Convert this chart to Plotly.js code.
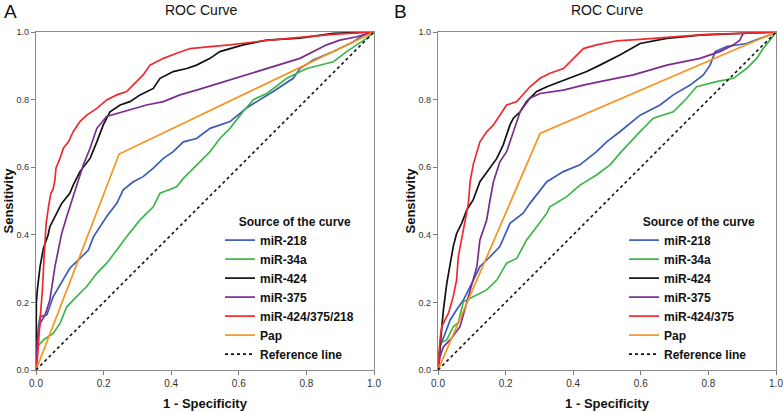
<!DOCTYPE html>
<html>
<head>
<meta charset="utf-8">
<script src="https://cdn.plot.ly/plotly-3.0.1.min.js"></script>
<style>html,body{margin:0;padding:0;background:#fff;overflow:hidden;}#chart{width:795px;height:413px;}</style>
</head>
<body>
<div id="chart"></div>
<script>
// ---------- Data ----------
const panelLabels = ["A", "B"];
const chartTitle = "ROC Curve";
const xTitle = "1 - Specificity";
const yTitle = "Sensitivity";
const legendTitle = "Source of the curve";
const tickValues = [0, 0.2, 0.4, 0.6, 0.8, 1.0];
const tickLabels = ["0.0", "0.2", "0.4", "0.6", "0.8", "1.0"];

const seriesNamesA = ["miR-218", "miR-34a", "miR-424", "miR-375", "miR-424/375/218", "Pap", "Reference line"];
const seriesNamesB = ["miR-218", "miR-34a", "miR-424", "miR-375", "miR-424/375", "Pap", "Reference line"];
const seriesColors = ["#3a5bb8", "#3db54a", "#111111", "#7a2d8c", "#ee2a30", "#f7941d", "#111111"];

// Panel A
const fprA_218 = [0, 0.003, 0.007, 0.012, 0.032, 0.051, 0.081, 0.1, 0.13, 0.155, 0.17, 0.189, 0.209, 0.239, 0.258, 0.288, 0.317, 0.347, 0.377, 0.406, 0.436, 0.475, 0.515, 0.574, 0.623, 0.653, 0.702, 0.761, 0.781, 0.82, 0.88, 0.939, 0.968, 1];
const tprA_218 = [0, 0.069, 0.128, 0.158, 0.163, 0.217, 0.266, 0.301, 0.33, 0.355, 0.394, 0.424, 0.454, 0.493, 0.533, 0.557, 0.572, 0.597, 0.626, 0.646, 0.675, 0.685, 0.715, 0.735, 0.775, 0.794, 0.824, 0.863, 0.892, 0.917, 0.942, 0.971, 0.991, 1];
const fprA_34a = [0, 0.004, 0.022, 0.051, 0.071, 0.091, 0.12, 0.15, 0.18, 0.209, 0.239, 0.268, 0.308, 0.347, 0.367, 0.416, 0.436, 0.475, 0.515, 0.544, 0.574, 0.613, 0.643, 0.683, 0.742, 0.801, 0.88, 0.919, 0.949, 0.978, 1];
const tprA_34a = [0, 0.069, 0.089, 0.108, 0.138, 0.187, 0.217, 0.247, 0.286, 0.316, 0.355, 0.394, 0.444, 0.483, 0.523, 0.542, 0.567, 0.607, 0.646, 0.685, 0.715, 0.765, 0.8, 0.818, 0.863, 0.892, 0.912, 0.942, 0.962, 0.981, 1];
const fprA_424 = [0, 0.001, 0.004, 0.012, 0.022, 0.036, 0.041, 0.061, 0.076, 0.1, 0.11, 0.13, 0.16, 0.18, 0.199, 0.219, 0.249, 0.278, 0.308, 0.347, 0.367, 0.406, 0.446, 0.475, 0.515, 0.544, 0.574, 0.613, 0.683, 0.781, 0.88, 1];
const tprA_424 = [0, 0.2, 0.237, 0.306, 0.36, 0.4, 0.424, 0.464, 0.493, 0.523, 0.547, 0.587, 0.626, 0.675, 0.725, 0.764, 0.784, 0.794, 0.814, 0.833, 0.863, 0.883, 0.892, 0.902, 0.922, 0.942, 0.951, 0.962, 0.976, 0.982, 0.996, 1];
const fprA_375 = [0, 0.004, 0.012, 0.027, 0.041, 0.056, 0.066, 0.076, 0.091, 0.106, 0.125, 0.14, 0.16, 0.18, 0.209, 0.239, 0.278, 0.327, 0.377, 0.426, 0.475, 0.525, 0.584, 0.683, 0.781, 0.86, 0.899, 0.949, 1];
const tprA_375 = [0, 0.089, 0.138, 0.163, 0.207, 0.306, 0.355, 0.404, 0.454, 0.503, 0.562, 0.607, 0.656, 0.715, 0.75, 0.759, 0.769, 0.784, 0.794, 0.814, 0.828, 0.843, 0.863, 0.892, 0.922, 0.962, 0.976, 0.986, 1];
const fprA_comb = [0, 0.004, 0.012, 0.019, 0.024, 0.03, 0.037, 0.044, 0.05, 0.056, 0.059, 0.071, 0.081, 0.096, 0.11, 0.13, 0.15, 0.18, 0.209, 0.239, 0.268, 0.298, 0.317, 0.337, 0.377, 0.416, 0.456, 0.515, 0.574, 0.683, 0.781, 0.879, 1];
const tprA_comb = [0, 0.03, 0.148, 0.237, 0.335, 0.434, 0.483, 0.523, 0.533, 0.562, 0.597, 0.626, 0.656, 0.675, 0.705, 0.735, 0.754, 0.774, 0.799, 0.814, 0.824, 0.853, 0.873, 0.902, 0.922, 0.937, 0.951, 0.957, 0.962, 0.975, 0.985, 0.993, 1];
const fprA_pap = [0, 0.246, 1];
const tprA_pap = [0, 0.639, 1];

// Panel B
const fprB_218 = [0, 0.006, 0.021, 0.036, 0.055, 0.075, 0.1, 0.124, 0.154, 0.183, 0.213, 0.252, 0.272, 0.302, 0.322, 0.371, 0.42, 0.469, 0.499, 0.538, 0.598, 0.657, 0.696, 0.746, 0.785, 0.805, 0.82, 0.854, 0.913, 0.953, 0.982, 1];
const tprB_218 = [0, 0.069, 0.108, 0.148, 0.178, 0.207, 0.256, 0.306, 0.335, 0.365, 0.434, 0.464, 0.493, 0.53, 0.557, 0.587, 0.607, 0.646, 0.675, 0.705, 0.754, 0.784, 0.814, 0.843, 0.873, 0.902, 0.942, 0.957, 0.966, 0.981, 0.991, 1];
const fprB_34a = [0, 0.006, 0.026, 0.045, 0.06, 0.075, 0.104, 0.144, 0.174, 0.203, 0.233, 0.262, 0.292, 0.322, 0.331, 0.381, 0.42, 0.469, 0.509, 0.538, 0.588, 0.637, 0.696, 0.736, 0.765, 0.824, 0.874, 0.913, 0.943, 0.962, 0.982, 1];
const tprB_34a = [0, 0.079, 0.089, 0.128, 0.14, 0.202, 0.217, 0.237, 0.266, 0.316, 0.33, 0.385, 0.424, 0.464, 0.483, 0.513, 0.547, 0.577, 0.607, 0.641, 0.695, 0.745, 0.764, 0.804, 0.838, 0.853, 0.863, 0.892, 0.922, 0.951, 0.976, 1];
const fprB_424 = [0, 0.004, 0.011, 0.016, 0.026, 0.036, 0.045, 0.055, 0.07, 0.085, 0.104, 0.124, 0.154, 0.174, 0.193, 0.213, 0.223, 0.243, 0.262, 0.292, 0.322, 0.361, 0.4, 0.44, 0.479, 0.538, 0.598, 0.677, 0.775, 0.923, 1];
const tprB_424 = [0, 0.049, 0.108, 0.178, 0.256, 0.316, 0.365, 0.404, 0.434, 0.473, 0.503, 0.557, 0.597, 0.626, 0.666, 0.725, 0.745, 0.764, 0.794, 0.824, 0.838, 0.853, 0.868, 0.883, 0.902, 0.932, 0.966, 0.981, 0.991, 0.998, 1];
const fprB_375 = [0, 0.006, 0.016, 0.036, 0.065, 0.095, 0.115, 0.124, 0.144, 0.154, 0.164, 0.183, 0.203, 0.223, 0.243, 0.272, 0.302, 0.371, 0.43, 0.479, 0.578, 0.677, 0.775, 0.834, 0.874, 0.893, 0.903, 1];
const tprB_375 = [0, 0.039, 0.069, 0.089, 0.128, 0.237, 0.306, 0.385, 0.444, 0.503, 0.557, 0.616, 0.646, 0.705, 0.764, 0.804, 0.818, 0.828, 0.843, 0.853, 0.873, 0.902, 0.922, 0.942, 0.962, 0.976, 0.996, 1];
const fprB_comb = [0, 0.006, 0.011, 0.031, 0.045, 0.055, 0.06, 0.07, 0.08, 0.09, 0.095, 0.104, 0.124, 0.144, 0.164, 0.183, 0.203, 0.233, 0.252, 0.272, 0.302, 0.331, 0.371, 0.4, 0.43, 0.469, 0.529, 0.598, 0.696, 0.795, 0.893, 1];
const tprB_comb = [0, 0.089, 0.128, 0.168, 0.217, 0.266, 0.335, 0.385, 0.444, 0.493, 0.557, 0.607, 0.675, 0.705, 0.725, 0.754, 0.784, 0.794, 0.814, 0.838, 0.863, 0.878, 0.892, 0.922, 0.951, 0.962, 0.974, 0.978, 0.986, 0.993, 0.996, 1];
const fprB_pap = [0, 0.302, 1];
const tprB_pap = [0, 0.700, 1];

const refLine = [0, 1];

// ---------- Layout geometry ----------
// The div is a little wider than the 783px window so the right-most tick label is not hidden;
// the plot areas stay where they are in the reference.
const W = 795, H = 413;
const M = {l: 36, r: 19, t: 32, b: 43};
const PW = W - M.l - M.r, PH = H - M.t - M.b;
const px2x = p => (p - M.l) / PW;
const px2y = p => (H - M.b - p) / PH;
const FONT = "Arial, 'Liberation Sans', Helvetica, sans-serif";

function panelTraces(xs, ys, names, xa, ya, leg) {
  const out = [];
  for (let i = 0; i < xs.length; i++) {
    const isRef = i === xs.length - 1;
    out.push({
      type: "scatter", mode: "lines",
      x: xs[i], y: ys[i], name: names[i],
      xaxis: xa, yaxis: ya, legend: leg,
      line: {color: seriesColors[i], width: isRef ? 1.6 : 1.7, dash: isRef ? "dot" : "solid"},
      hoverinfo: "x+y+name"
    });
  }
  return out;
}

const traces = [
  ...panelTraces(
    [fprA_218, fprA_34a, fprA_424, fprA_375, fprA_comb, fprA_pap, refLine],
    [tprA_218, tprA_34a, tprA_424, tprA_375, tprA_comb, tprA_pap, refLine],
    seriesNamesA, "x", "y", "legend"),
  ...panelTraces(
    [fprB_218, fprB_34a, fprB_424, fprB_375, fprB_comb, fprB_pap, refLine],
    [tprB_218, tprB_34a, tprB_424, tprB_375, tprB_comb, tprB_pap, refLine],
    seriesNamesB, "x2", "y2", "legend2")
];

function xAxis(domain, anchor) {
  return {
    domain: domain, anchor: anchor, range: [0, 1],
    tickvals: tickValues, ticktext: tickLabels,
    ticks: "outside", ticklen: 4, tickcolor: "#7a7a7a",
    tickfont: {family: FONT, size: 10, color: "#333"},
    ticklabeloverflow: "allow",
    showline: true, mirror: true, linecolor: "#8a8a8a", linewidth: 1.2,
    showgrid: false, zeroline: false, fixedrange: true,
    title: {text: xTitle, font: {family: FONT, size: 13, weight: "bold", color: "#111"}, standoff: 10}
  };
}
function yAxis(anchor) {
  return {
    domain: [0, 1], anchor: anchor, range: [0, 1],
    tickvals: tickValues, ticktext: tickLabels,
    ticks: "outside", ticklen: 4, tickcolor: "#7a7a7a",
    tickfont: {family: FONT, size: 9, color: "#333"},
    ticklabeloverflow: "allow",
    showline: true, mirror: true, linecolor: "#8a8a8a", linewidth: 1.2,
    showgrid: false, zeroline: false, fixedrange: true,
    title: {text: yTitle, font: {family: FONT, size: 13, weight: "bold", color: "#111"}, standoff: 0}
  };
}

const INDENT = "\u00A0\u00A0\u00A0\u00A0\u00A0";
function legendCfg(xpx) {
  return {
    x: px2x(xpx), y: px2y(210), xanchor: "left", yanchor: "top",
    bgcolor: "rgba(0,0,0,0)", borderwidth: 0,
    font: {family: FONT, size: 12, weight: "bold", color: "#111"},
    title: {text: INDENT + legendTitle, font: {family: FONT, size: 12, weight: "bold", color: "#111"}},
    itemwidth: 30, tracegroupgap: 0
  };
}

const layout = {
  width: W, height: H,
  margin: M,
  paper_bgcolor: "#fff", plot_bgcolor: "#fff",
  font: {family: FONT, color: "#111"},
  showlegend: true,
  xaxis: xAxis([0, px2x(374)], "y"),
  yaxis: yAxis("x"),
  xaxis2: xAxis([px2x(438), px2x(776)], "y2"),
  yaxis2: yAxis("x2"),
  legend: legendCfg(220),
  legend2: legendCfg(624),
  annotations: [
    {text: chartTitle, xref: "x domain", yref: "paper", x: 0.49, y: px2y(10), xanchor: "center", yanchor: "middle", showarrow: false, font: {family: FONT, size: 14, color: "#111"}},
    {text: chartTitle, xref: "x2 domain", yref: "paper", x: 0.5, y: px2y(10), xanchor: "center", yanchor: "middle", showarrow: false, font: {family: FONT, size: 14, color: "#111"}},
    {text: panelLabels[0], xref: "paper", yref: "paper", x: px2x(10), y: px2y(12), xanchor: "center", yanchor: "middle", showarrow: false, font: {family: FONT, size: 19, color: "#111"}},
    {text: panelLabels[1], xref: "paper", yref: "paper", x: px2x(400), y: px2y(12), xanchor: "center", yanchor: "middle", showarrow: false, font: {family: FONT, size: 19, color: "#111"}}
  ]
};

Plotly.newPlot("chart", traces, layout, {displayModeBar: false, staticPlot: true});
</script>
</body>
</html>
